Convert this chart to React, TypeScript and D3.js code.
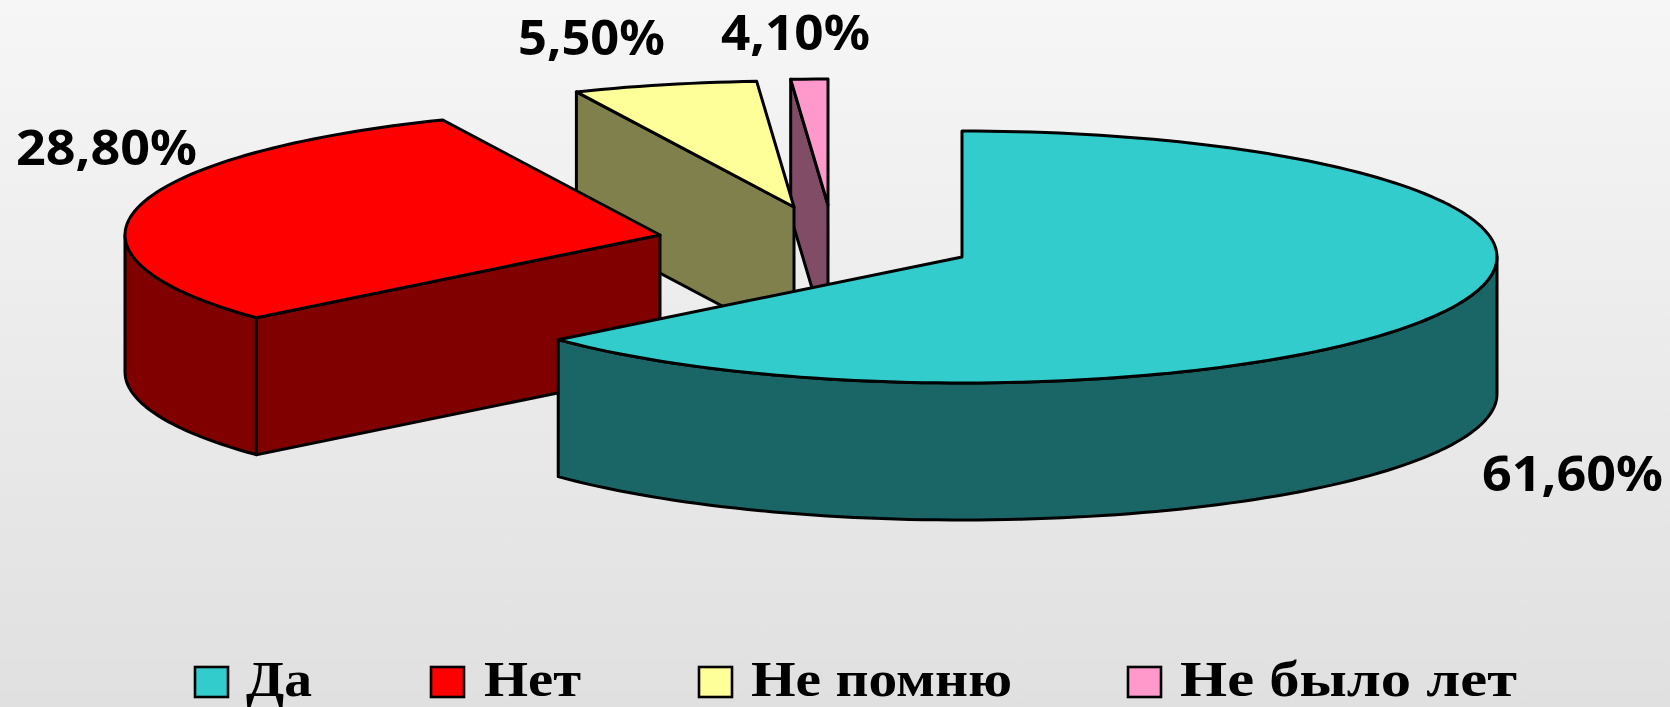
import React from "react";
import * as d3 from "d3";

// Data
const categories = ["Да", "Нет", "Не помню", "Не было лет"];
const values = [61.6, 28.8, 5.5, 4.1];
const valueLabels = ["61,60%", "28,80%", "5,50%", "4,10%"];

// Style
const topColors = ["#33CCCC", "#FF0000", "#FFFF99", "#FF99CC"];
const sideColors = ["#1A6666", "#800000", "#80804C", "#804C66"];

// Layout
const W = 1670;
const H = 707;
const RX = 535;
const RY = 126;
const DEPTH = 137;
const sliceCentres: [number, number][] = [[962, 257], [660, 235], [794, 207], [828, 205]];
const labelBoxes: [number, number, number][] = [[1482, 491, 181], [16, 165, 181], [518, 55, 147], [721, 50, 149]];
const legendSwatchX = [195, 431, 699, 1128];
const legendTextBox: [number, number][] = [[246, 66], [484, 97], [751, 261], [1180, 337]];

// Foreshortening of the 3D projection: true cumulative angle -> drawn angle (degrees)
const projectedAngle = d3.scaleLinear()
  .domain([0, 221.76, 325.44, 345.24, 360])
  .range([0, 229, 336, 356, 360]);

const rimPoint = (c: [number, number], deg: number, dy = 0): [number, number] => {
  const t = (deg * Math.PI) / 180;
  return [c[0] + RX * Math.sin(t), c[1] - RY * Math.cos(t) + dy];
};
const line = d3.line();
const sweep = (c: [number, number], a: number, b: number, dy = 0): [number, number][] => {
  const n = Math.max(2, Math.ceil(Math.abs(b - a) / 1.5));
  return d3.range(n + 1).map((i) => rimPoint(c, a + ((b - a) * i) / n, dy));
};

const pieLayout = d3.pie<number>().sort(null);
const toDeg = (r: number) => (r * 180) / Math.PI;
const arcs = pieLayout(values).map((p) => ({
  start: projectedAngle(toDeg(p.startAngle)) as number,
  end: projectedAngle(toDeg(p.endAngle)) as number,
}));

const sw = 3;

function Slice({ i }: { i: number }) {
  const c = sliceCentres[i];
  const { start, end } = arcs[i];
  const faces: string[] = [];
  // Cut wall from the centre to the rim at the slice's start angle (seen for all but the first slice)
  if (i > 0) {
    const p = rimPoint(c, start);
    faces.push(line([c, p, [p[0], p[1] + DEPTH], [c[0], c[1] + DEPTH]])! + "Z");
  }
  // Outer wall: only the part of the rim facing the viewer (90..270 degrees)
  const from = Math.max(start, 90);
  const to = Math.min(end, 270);
  if (to > from) {
    faces.push(line([...sweep(c, from, to), ...sweep(c, to, from, DEPTH)])! + "Z");
  }
  const top = line([c, ...sweep(c, start, end)])! + "Z";
  return (
    <g stroke="#000" strokeWidth={sw} strokeLinejoin="round">
      {faces.map((d, k) => <path key={k} d={d} fill={sideColors[i]} />)}
      <path d={top} fill={topColors[i]} />
    </g>
  );
}

export default function App() {
  return (
    <svg
      width={W}
      height={H}
      viewBox={`0 0 ${W} ${H}`}
      style={{ position: "fixed", left: 0, top: 0, display: "block" }}
    >
      <defs>
        <linearGradient id="bg" x1="0" y1="0" x2="0" y2="1">
          <stop offset="0" stopColor="#f6f6f6" />
          <stop offset="1" stopColor="#e0e0e0" />
        </linearGradient>
      </defs>
      <rect width={W} height={H} fill="url(#bg)" />
      {[3, 2, 1, 0].map((i) => <Slice key={i} i={i} />)}
      {valueLabels.map((t, i) => (
        <text
          key={t}
          x={labelBoxes[i][0]}
          y={labelBoxes[i][1]}
          textLength={labelBoxes[i][2]}
          lengthAdjust="spacingAndGlyphs"
          fontFamily="'Noto Sans', sans-serif"
          fontWeight={700}
          fontSize={48}
          fill="#000"
        >
          {t}
        </text>
      ))}
      {categories.map((t, i) => (
        <g key={t}>
          <rect x={legendSwatchX[i]} y={667} width={33} height={30} fill={topColors[i]} stroke="#000" strokeWidth={2.6} />
          <text
            x={legendTextBox[i][0]}
            y={696}
            textLength={legendTextBox[i][1]}
            lengthAdjust="spacingAndGlyphs"
            fontFamily="'Liberation Serif', serif"
            fontWeight={700}
            fontSize={50}
            fill="#000"
          >
            {t}
          </text>
        </g>
      ))}
    </svg>
  );
}
